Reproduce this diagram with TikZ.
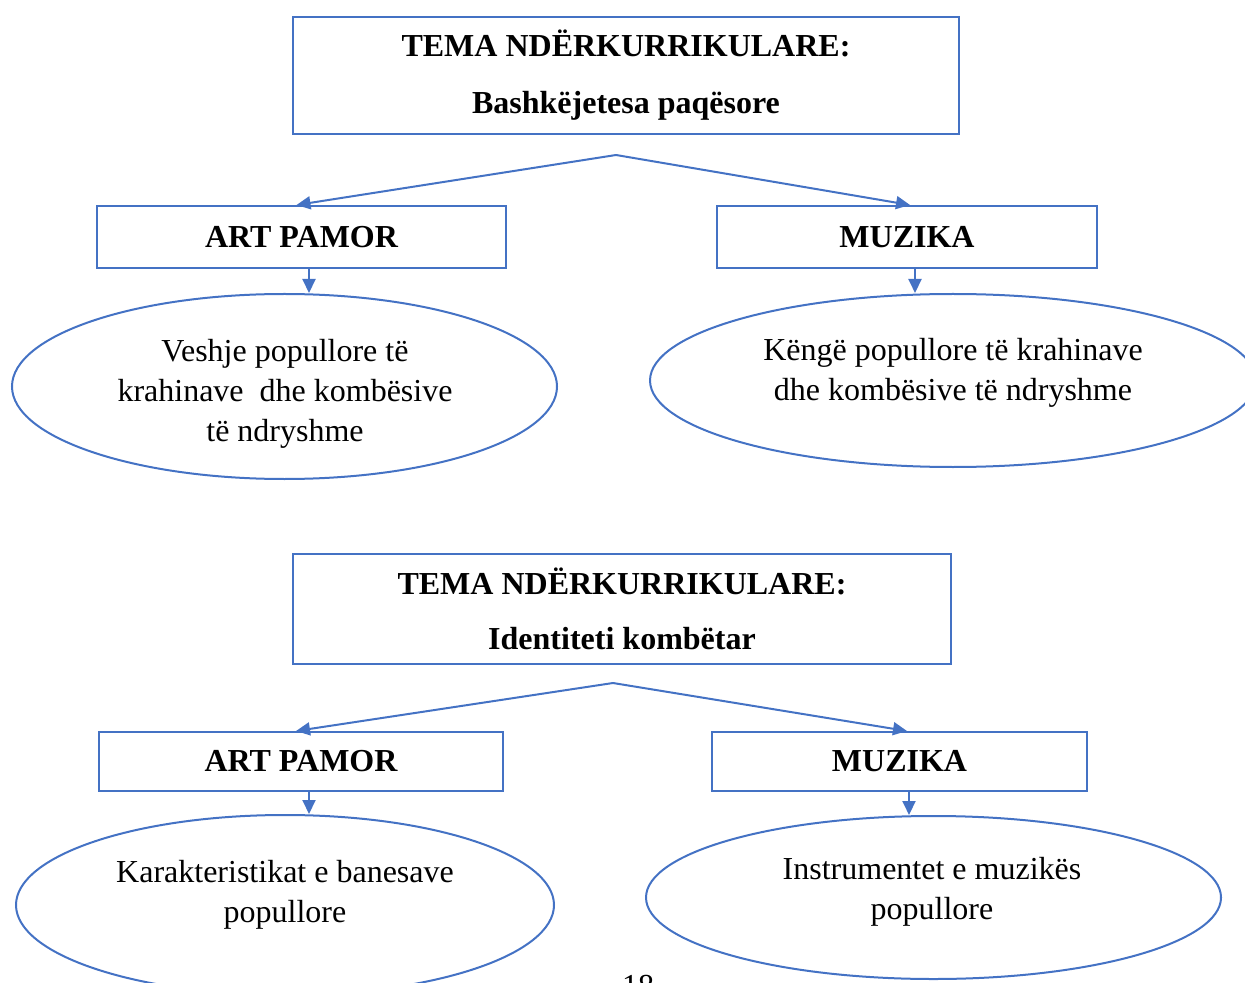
\documentclass[tikz,border=0pt]{standalone}
\usepackage{fontspec}
\setmainfont{Liberation Serif}
\usetikzlibrary{shapes.geometric,arrows.meta}
\definecolor{wordblue}{RGB}{68,114,196}
\begin{document}
\begin{tikzpicture}[x=0.5pt, y=-0.5pt,
  box/.style={draw=wordblue, line width=1pt, inner sep=0pt, align=center,
    font=\bfseries\fontsize{16}{20}\selectfont},
  oval/.style={draw=wordblue, line width=1pt, ellipse, inner sep=0pt},
  txt/.style={align=center, inner sep=0pt, font=\fontsize{16}{20}\selectfont},
  arr/.style={draw=wordblue, line width=1pt, -{Triangle[length=7pt,width=6.5pt]}}]
\useasboundingbox (0,0) rectangle (1245,983);

% first theme
\node[box, minimum width=333pt, minimum height=58.5pt] (tema1) at (626,75.5)
  {TEMA NDËRKURRIKULARE:\\[8.5pt]Bashkëjetesa paqësore};
\node[box, minimum width=204.5pt, minimum height=31pt] (art1) at (301.5,237) {ART PAMOR};
\node[box, minimum width=190pt, minimum height=31pt] (muz1) at (907,237) {MUZIKA};
\node[oval, minimum width=272.5pt, minimum height=92.5pt] (ell1) at (284.5,386.5) {};
\node[oval, minimum width=303pt, minimum height=86.5pt] (ell2) at (953,380.5) {};
\node[txt] (t1) at (285,394) {Veshje popullore të\\krahinave \ dhe kombësive\\të ndryshme};
\node[txt] (t2) at (953,373) {Këngë popullore të krahinave\\dhe kombësive të ndryshme};

\coordinate (apex1) at (616,155);
\draw[arr] (apex1) -- ([xshift=-2.5pt]art1.north);
\draw[arr] (apex1) -- ([xshift=1.5pt]muz1.north);
\draw[arr] ([xshift=3.75pt]art1.south) -- ([xshift=3.75pt]art1.south |- ell1.north);
\draw[arr] ([xshift=4pt]muz1.south) -- ([xshift=4pt]muz1.south |- ell2.north);

% second theme
\node[box, minimum width=329pt, minimum height=55pt] (tema2) at (622,609)
  {TEMA NDËRKURRIKULARE:\\[7.5pt]Identiteti kombëtar};
\node[box, minimum width=202pt, minimum height=29.5pt] (art2) at (301,761.5) {ART PAMOR};
\node[box, minimum width=187.5pt, minimum height=29.5pt] (muz2) at (899.5,761.5) {MUZIKA};
\node[oval, minimum width=269pt, minimum height=90pt] (ell3) at (285,905) {};
\node[oval, minimum width=287.5pt, minimum height=81.5pt] (ell4) at (933.5,897.5) {};
\node[txt] (t3) at (285,895) {Karakteristikat e banesave\\popullore};
\node[txt] (t4) at (932,892) {Instrumentet e muzikës\\popullore};

\coordinate (apex2) at (613,683);
\draw[arr] (apex2) -- ([xshift=-2.5pt]art2.north);
\draw[arr] (apex2) -- ([xshift=3.75pt]muz2.north);
\draw[arr] ([xshift=4pt]art2.south) -- ([xshift=4pt]art2.south |- ell3.north);
\draw[arr] ([xshift=4.75pt]muz2.south) -- ([xshift=4.75pt]muz2.south |- ell4.north);

\node[txt, anchor=base] (page) at (638,996) {18};
\end{tikzpicture}
\end{document}
